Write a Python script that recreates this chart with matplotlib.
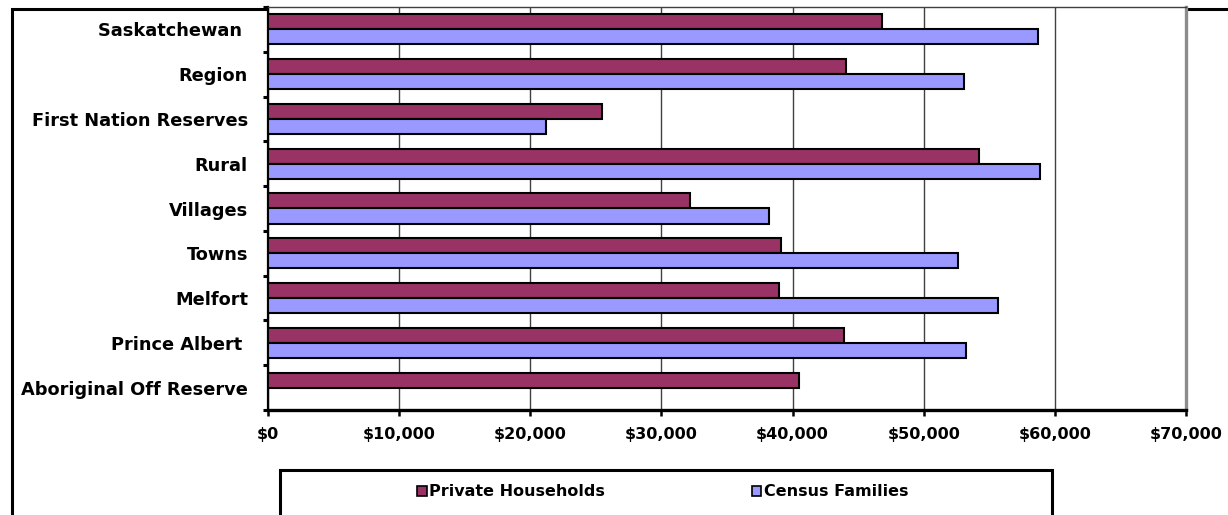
import matplotlib
matplotlib.use("Agg")
import matplotlib.pyplot as plt
from matplotlib.patches import Patch, Rectangle
import numpy as np

categories = ["Saskatchewan ", "Region", "First Nation Reserves", "Rural", "Villages",
              "Towns", "Melfort", "Prince Albert ", "Aboriginal Off Reserve"]
private_households = [46800, 44050, 25500, 54200, 32200, 39100, 39000, 43900, 40500]
census_families = [58700, 53100, 21200, 58900, 38200, 52600, 55700, 53200, np.nan]
xticks = [0, 10000, 20000, 30000, 40000, 50000, 60000, 70000]
xticklabels = ["$0", "$10,000", "$20,000", "$30,000", "$40,000", "$50,000", "$60,000", "$70,000"]
seriesnames = ["Private Households", "Census Families"]
colorarr = ["#993366", "#9999FF"]

plt.rcParams['font.family'] = ['DejaVu Sans']
plt.rcParams['font.weight'] = 'bold'

W, H = 1228, 515
fig = plt.figure(figsize=(W/100, H/100), dpi=100)
ax = fig.add_axes([268/W, 1-410/H, (1186-268)/W, (410-7)/H])

n = len(categories)
ypos = np.arange(n)[::-1]
h = 0.335
ax.barh(ypos + h/2, private_households, height=h, color=colorarr[0],
        edgecolor="black", linewidth=1.5, zorder=3)
ax.barh(ypos - h/2, census_families, height=h, color=colorarr[1],
        edgecolor="black", linewidth=1.5, zorder=3)

ax.set_xlim(0, 70000)
ax.set_ylim(-0.5, n - 0.5)
ax.set_xticks(xticks)
ax.set_xticklabels(xticklabels, fontsize=11.5, fontweight='bold')
ax.set_yticks(ypos)
ax.set_yticklabels(categories, fontsize=12.8, fontweight='bold')
ax.set_yticks(np.arange(n + 1) - 0.5, minor=True)
ax.tick_params(axis='y', which='major', length=0, pad=14.4)
ax.tick_params(axis='y', which='minor', length=3.8, width=2.2, color='black')
ax.tick_params(axis='x', which='major', length=4.3, width=1.8, pad=8, color='black')

ax.grid(axis='x', color='#404040', linewidth=1.0, zorder=0)
ax.set_axisbelow(True)

ax.spines['left'].set_linewidth(1.6)
ax.spines['left'].set_color('black')
ax.spines['bottom'].set_linewidth(2.4)
ax.spines['bottom'].set_color('black')
ax.spines['right'].set_linewidth(2.4)
ax.spines['right'].set_color('#8c8c8c')
ax.spines['top'].set_linewidth(1.0)
ax.spines['top'].set_color('#404040')

# outer chart border (cropped on right and bottom)
fig.patches.append(Rectangle((11.5/W, -0.2), 1.2, 1.2 - 8.5/H, transform=fig.transFigure,
                             fill=False, edgecolor='black', linewidth=2.2, zorder=-1))
# legend box (cropped at bottom)
fig.patches.append(Rectangle((280/W, -0.2), (1052-280)/W, 0.2 + 1-470/H, transform=fig.transFigure,
                             fill=False, edgecolor='black', linewidth=2.2, zorder=1))

handles = [Patch(facecolor=colorarr[i], edgecolor='black', linewidth=1.2, label=seriesnames[i])
           for i in range(2)]
fig.legend(handles=handles, loc='center left', bbox_to_anchor=(417/W, 1-492/H), ncol=2,
           frameon=False, fontsize=11.5, handlelength=0.6, handleheight=0.6,
           handletextpad=0.15, columnspacing=9.2, borderpad=0, borderaxespad=0,
           prop={'weight': 'bold', 'size': 11.5})

fig.savefig('out.png', dpi=100)
